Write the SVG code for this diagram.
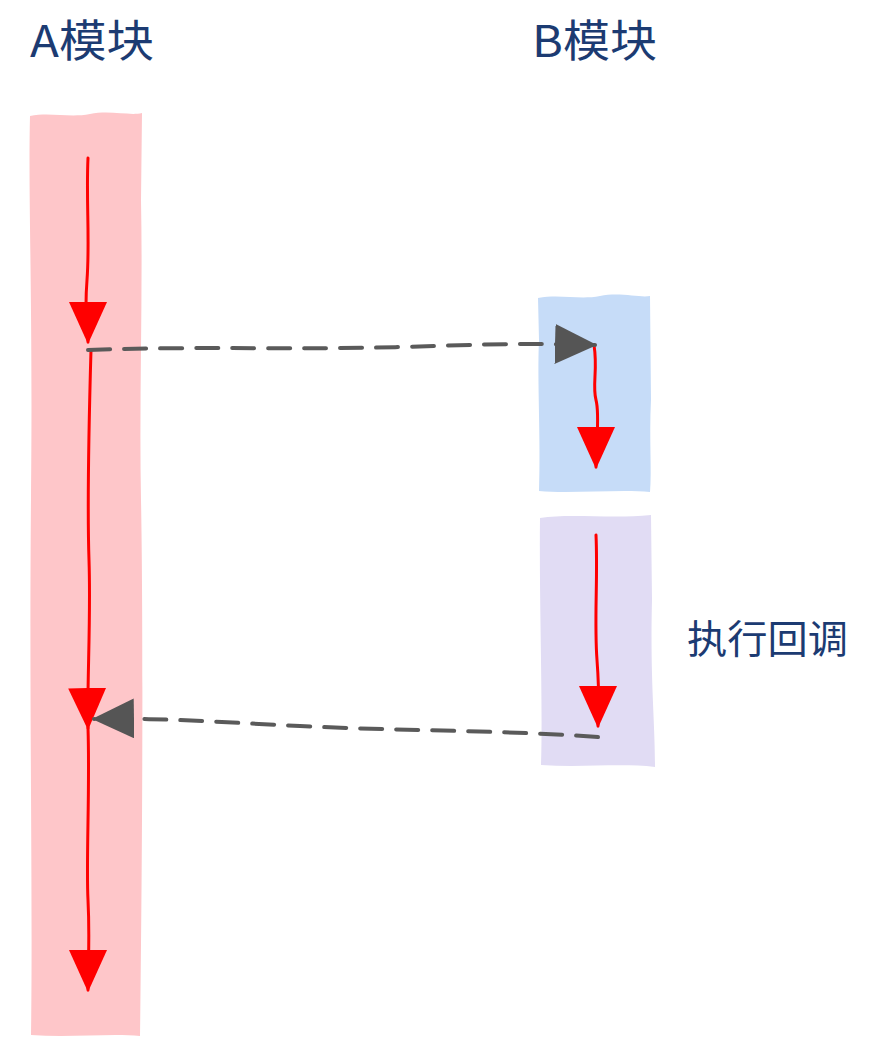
<svg xmlns="http://www.w3.org/2000/svg" width="894" height="1054" viewBox="0 0 894 1054">
<style>
.t{font-family:"Noto Sans CJK SC","Noto Sans",sans-serif;fill:#1c3b72;}
.red{fill:none;stroke:#ff0000;stroke-width:3;stroke-linecap:round;marker-end:url(#rh);}
.dash{fill:none;stroke:#5a5a5a;stroke-width:4;stroke-dasharray:22 14;stroke-linecap:round;marker-end:url(#gh);}
</style>
<defs>
<marker id="rh" viewBox="0 0 42 38" refX="40" refY="19" markerWidth="42" markerHeight="38" orient="auto" markerUnits="userSpaceOnUse">
<path d="M0,0 L42,19 L0,38 Z" fill="#ff0000"/>
</marker>
<marker id="gh" viewBox="0 0 42 40" refX="40" refY="20" markerWidth="42" markerHeight="40" orient="auto" markerUnits="userSpaceOnUse">
<path d="M0,0 L42,20 L0,40 Z" fill="#555555"/>
</marker>
</defs>
<rect width="894" height="1054" fill="#ffffff"/>
<g id="colA">
<path d="M30,116 C50,112 70,118 90,114 S130,116 142,113 L141,200 C143,300 139,400 141,500 S143,800 140,1036 C110,1033 70,1038 31,1035 C33,900 29,700 31,500 S28,200 30,116 Z" fill="#fec6c9"/>
</g>
<g id="boxB">
<path d="M538,298 C560,294 580,300 600,296 S640,298 650,296 L651,400 C649,440 652,470 650,492 C620,489 570,494 539,491 C541,440 537,380 539,340 Z" fill="#c6dcf8"/>
</g>
<g id="boxCb">
<path d="M540,518 C570,513 610,519 651,515 L652,600 C650,680 655,720 655,767 C620,763 580,768 541,765 C543,700 539,600 540,518 Z" fill="#e1dcf4"/>
</g>
<g id="labels">
<text class="t" x="30" y="57" font-size="44" textLength="124" lengthAdjust="spacingAndGlyphs">A模块</text>
<text class="t" x="532" y="57" font-size="44" textLength="125" lengthAdjust="spacingAndGlyphs">B模块</text>
<text class="t" x="687" y="653" font-size="39" textLength="161" lengthAdjust="spacingAndGlyphs">执行回调</text>
</g>
<g id="connectors">
<path class="red" d="M88,158 C86,200 90,240 87,280 S88,320 88,342"/>
<path class="red" d="M91,350 C89,420 87,500 89,560 S87,680 88,728"/>
<path class="red" d="M88,728 C90,790 86,860 88,900 S88,960 88,990"/>
<path class="red" d="M594,345 C598,370 592,385 596,400 S596,440 596,467"/>
<path class="red" d="M596,535 C598,580 594,620 597,660 S598,700 598,726"/>
<path class="dash" d="M88,350 C200,346 300,350 400,347 S520,343 595,345"/>
<path class="dash" d="M598,737 C500,730 400,731 300,726 S160,718 94,719"/>
</g>
</svg>
